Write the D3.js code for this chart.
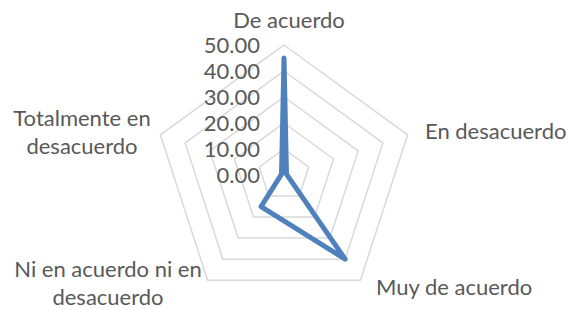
<!DOCTYPE html>
<html>
<head>
<meta charset="utf-8">
<script src="https://cdn.jsdelivr.net/npm/d3@7"></script>
<style>
  body { margin: 0; background: #fff; }
  text { font-family: Lato, "Liberation Sans", sans-serif; fill: #595959; }
</style>
</head>
<body>
<div id="chart"></div>
<script>
// Data
const categories = ["De acuerdo", "En desacuerdo", "Muy de acuerdo", "Ni en acuerdo ni en desacuerdo", "Totalmente en desacuerdo"];
const values = [45, 1, 40, 15, 1];
const ticks = [0, 10, 20, 30, 40, 50];

// Category labels split into lines as in the picture
const labelLines = [["De acuerdo"], ["En desacuerdo"], ["Muy de acuerdo"], ["Ni en acuerdo ni en", "desacuerdo"], ["Totalmente en", "desacuerdo"]];

const width = 571, height = 309;
const cx = 284, cy = 175;

const svg = d3.select("#chart")
    .append("svg")
    .attr("width", width)
    .attr("height", height);

const g = svg.append("g")
    .attr("transform", `translate(${cx},${cy})`);

// Scales
const r = d3.scaleLinear()
    .domain([0, 50])
    .range([0, 130]);

const angle = d3.scaleLinear()
    .domain([0, categories.length])
    .range([0, 2 * Math.PI]);

const point = (i, v) => [r(v) * Math.sin(angle(i)), -r(v) * Math.cos(angle(i))];

// Grid pentagons (no spokes in the original)
ticks.filter(t => t > 0).forEach(t => {
    g.append("path")
        .attr("d", d3.line()(categories.map((c, i) => point(i, t))) + "Z")
        .attr("fill", "none")
        .attr("stroke", "#d9d9d9")
        .attr("stroke-width", 1.5);
});

// Tick labels
g.selectAll(".tick")
    .data(ticks)
    .enter()
    .append("text")
    .attr("x", -24)
    .attr("y", d => -r(d))
    .attr("dy", "0.36em")
    .attr("text-anchor", "end")
    .style("font-size", "22px")
    .text(d => d.toFixed(2));

// Data line
g.append("path")
    .attr("d", d3.line()(values.map((v, i) => point(i, v))) + "Z")
    .attr("fill", "none")
    .attr("stroke", "#4f81bd")
    .attr("stroke-width", 5)
    .attr("stroke-linejoin", "round");

// Category labels
const labelPos = [
    { x: 289, y: 20, anchor: "middle" },
    { x: 425, y: 131, anchor: "start" },
    { x: 376, y: 287, anchor: "start" },
    { x: 108, y: 269, anchor: "middle" },
    { x: 82, y: 118, anchor: "middle" }
];

labelLines.forEach((lines, i) => {
    const t = svg.append("text")
        .attr("text-anchor", labelPos[i].anchor)
        .style("font-size", "22px");
    lines.forEach((line, j) => {
        t.append("tspan")
            .attr("x", labelPos[i].x)
            .attr("y", labelPos[i].y + j * 28.5)
            .attr("dy", "0.36em")
            .text(line);
    });
});
</script>
</body>
</html>
